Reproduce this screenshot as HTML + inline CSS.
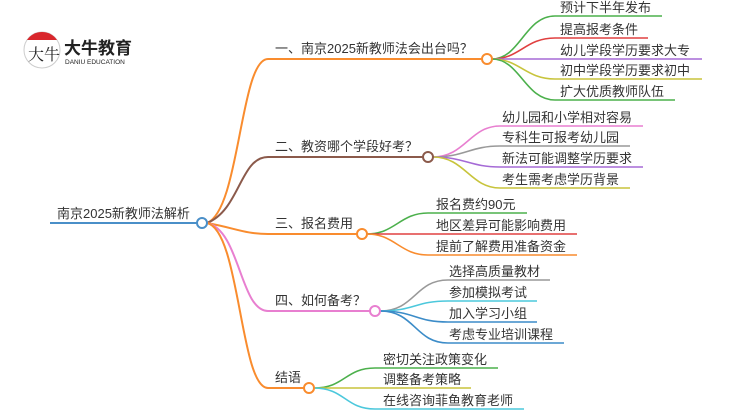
<!DOCTYPE html>
<html><head><meta charset="utf-8"><style>
html,body{margin:0;padding:0;background:#fff;width:750px;height:410px;overflow:hidden}
svg text{font-family:"Liberation Sans","Noto Sans CJK SC",sans-serif;fill:#333;font-size:13px}
</style></head><body>
<svg width="750" height="410" viewBox="0 0 750 410" xmlns="http://www.w3.org/2000/svg" fill="none" stroke-width="1.6">
<!-- logo -->
<circle cx="42" cy="50" r="18" stroke="#ccc" stroke-width="1" fill="#fff"/>
<path d="M27,40 A18,18 0 0 1 57,40 Z" fill="#d9262c" stroke="none"/>
<text x="28" y="60" style="font-size:16px;fill:#222;font-family:'Liberation Serif','Noto Serif CJK SC',serif">大牛</text>
<text x="64" y="54" style="font-size:17px;font-weight:bold;fill:#222">大牛教育</text>
<text x="65" y="64" style="font-size:6.5px;fill:#222">DANIU EDUCATION</text>
<!-- root -->
<path d="M50,223 H197" stroke="#4a8fc8" stroke-width="2"/>
<text x="57" y="218">南京2025新教师法解析</text>
<!-- main branches -->
<path d="M207,223 C240,210 240,59 268,59 H482" stroke="#f98c2e" stroke-width="2"/>
<path d="M207,223 C240,210 240,157 268,157 H423" stroke="#8b5a4b" stroke-width="2"/>
<path d="M207,223 C235,228 245,234 268,234 H357" stroke="#f98c2e" stroke-width="2"/>
<path d="M207,223 C240,230 240,311 268,311 H370" stroke="#e87fd0" stroke-width="2"/>
<path d="M207,223 C240,230 240,388 268,388 H304" stroke="#f98c2e" stroke-width="2"/>
<text x="275" y="53">一、南京2025新教师法会出台吗？</text>
<text x="275" y="151">二、教资哪个学段好考？</text>
<text x="275" y="228">三、报名费用</text>
<text x="275" y="305">四、如何备考？</text>
<text x="275" y="382">结语</text>
<!-- branch 1 leaves -->
<g>
<path d="M492,59 C520,59 525,16 555,16 H662" stroke="#4cb04c"/>
<path d="M492,59 C520,59 525,38 555,38 H648" stroke="#e04040"/>
<path d="M492,59 H702" stroke="#a56ad6"/>
<path d="M492,59 C520,59 525,79 555,79 H702" stroke="#c8c43c"/>
<path d="M492,59 C520,59 525,100 555,100 H675" stroke="#4cb04c"/>
<text x="560" y="12">预计下半年发布</text>
<text x="560" y="34">提高报考条件</text>
<text x="560" y="55">幼儿学段学历要求大专</text>
<text x="560" y="75">初中学段学历要求初中</text>
<text x="560" y="96">扩大优质教师队伍</text>
</g>
<g>
<path d="M433,157 C465,157 470,126 500,126 H643" stroke="#e87fd0"/>
<path d="M433,157 C465,157 470,146 500,146 H630" stroke="#999"/>
<path d="M433,157 C465,157 470,167 500,167 H643" stroke="#a56ad6"/>
<path d="M433,157 C465,157 470,188 500,188 H630" stroke="#c8c43c"/>
<text x="502" y="122">幼儿园和小学相对容易</text>
<text x="502" y="142">专科生可报考幼儿园</text>
<text x="502" y="163">新法可能调整学历要求</text>
<text x="502" y="184">考生需考虑学历背景</text>
</g>
<g>
<path d="M367,234 C395,234 400,213 428,213 H527" stroke="#4cb04c"/>
<path d="M367,234 H577" stroke="#e04040"/>
<path d="M367,234 C395,234 400,255 428,255 H577" stroke="#f98c2e"/>
<text x="436" y="209">报名费约90元</text>
<text x="436" y="230">地区差异可能影响费用</text>
<text x="436" y="251">提前了解费用准备资金</text>
</g>
<g>
<path d="M380,311 C415,311 415,280 448,280 H550" stroke="#999"/>
<path d="M380,311 C415,311 415,301 448,301 H537" stroke="#4cc8dc"/>
<path d="M380,311 C415,311 415,322 448,322 H537" stroke="#3c8cc8"/>
<path d="M380,311 C415,311 415,343 448,343 H564" stroke="#3c8cc8"/>
<text x="449" y="276">选择高质量教材</text>
<text x="449" y="297">参加模拟考试</text>
<text x="449" y="318">加入学习小组</text>
<text x="449" y="339">考虑专业培训课程</text>
</g>
<g>
<path d="M314,388 C345,388 345,368 375,368 H498" stroke="#4cb04c"/>
<path d="M314,388 H471" stroke="#c8c43c"/>
<path d="M314,388 C345,388 345,409 375,409 H524" stroke="#4cc8dc"/>
<text x="383" y="364">密切关注政策变化</text>
<text x="383" y="384">调整备考策略</text>
<text x="383" y="405">在线咨询菲鱼教育老师</text>
</g>
<!-- circles -->
<circle cx="202" cy="223" r="5" stroke="#4a8fc8" stroke-width="2" fill="#fff"/>
<circle cx="487" cy="59" r="5" stroke="#f98c2e" stroke-width="2" fill="#fff"/>
<circle cx="428" cy="157" r="5" stroke="#8b5a4b" stroke-width="2" fill="#fff"/>
<circle cx="362" cy="234" r="5" stroke="#f98c2e" stroke-width="2" fill="#fff"/>
<circle cx="375" cy="311" r="5" stroke="#e87fd0" stroke-width="2" fill="#fff"/>
<circle cx="309" cy="388" r="5" stroke="#f98c2e" stroke-width="2" fill="#fff"/>
</svg>
</body></html>
